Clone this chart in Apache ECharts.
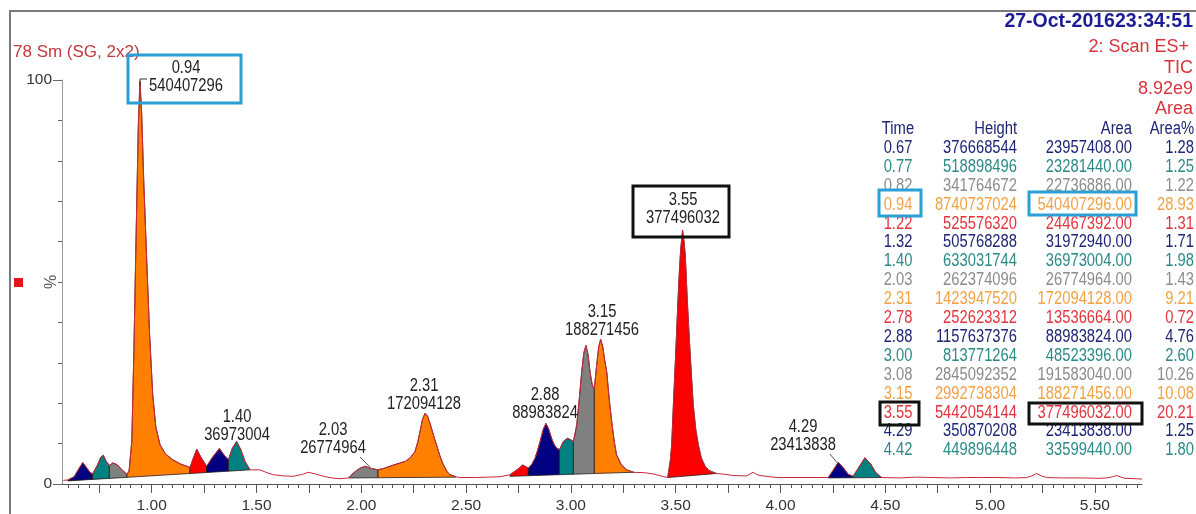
<!DOCTYPE html>
<html>
<head>
<meta charset="utf-8">
<script src="https://cdn.jsdelivr.net/npm/echarts@6/dist/echarts.min.js"></script>
<style>
  html, body { margin: 0; background: #fff; }
  #chart { width: 1196px; height: 514px; }
</style>
</head>
<body>
<div id="chart"></div>
<script>
// TIC trace, [time (min), % of full scale]
const trace = [
  [0.578,0.9],[0.60,1.0],[0.63,1.8],[0.655,4.0],[0.671,5.3],[0.69,4.0],[0.705,2.9],[0.718,2.5],
  [0.74,4.6],[0.757,6.6],[0.769,7.1],[0.783,5.6],[0.798,4.6],[0.814,5.2],[0.835,4.8],[0.86,3.4],
  [0.882,2.4],[0.892,3.2],[0.905,10.6],[0.915,33],[0.925,60],[0.936,88.5],[0.944,99.6],[0.952,92],
  [0.962,75],[0.976,55.7],[0.99,37],[1.005,22],[1.02,14],[1.04,9.7],[1.065,7.5],[1.10,6.0],
  [1.14,4.9],[1.183,4.1],[1.20,6.6],[1.215,8.6],[1.235,6.6],[1.262,4.4],[1.29,6.6],[1.323,8.8],
  [1.345,7.2],[1.366,6.0],[1.385,8.9],[1.405,10.5],[1.425,8.5],[1.445,5.6],[1.469,3.5],[1.517,3.5],
  [1.55,2.8],[1.58,2.3],[1.63,2.0],[1.676,1.9],[1.72,2.4],[1.747,2.9],[1.78,2.5],[1.82,1.9],
  [1.86,1.5],[1.898,1.3],[1.94,1.5],[1.962,2.7],[1.99,3.8],[2.018,4.4],[2.045,3.9],[2.08,3.5],
  [2.11,3.9],[2.137,4.4],[2.16,4.8],[2.185,5.2],[2.21,5.6],[2.232,6.4],[2.256,8.0],[2.27,10.5],
  [2.28,13.0],[2.292,16.0],[2.304,17.5],[2.316,16.8],[2.328,15.0],[2.345,12.0],[2.36,9.5],[2.375,7.0],
  [2.391,4.8],[2.41,3.0],[2.423,2.3],[2.45,1.8],[2.471,1.6],[2.55,1.6],[2.662,1.8],[2.71,2.3],
  [2.745,3.6],[2.77,4.7],[2.785,4.3],[2.797,3.9],[2.815,5.0],[2.829,6.4],[2.842,8.5],[2.853,10.5],
  [2.868,13.5],[2.881,15.0],[2.895,13.5],[2.908,11.3],[2.92,9.8],[2.932,8.9],[2.945,8.5],[2.955,9.5],
  [2.964,10.5],[2.983,11.3],[2.998,11.0],[3.012,10.5],[3.028,14.6],[3.04,21],[3.052,28],[3.062,32.5],
  [3.072,34.3],[3.082,32],[3.092,27.5],[3.102,24.5],[3.112,23.6],[3.123,29.4],[3.133,34],[3.142,35.8],
  [3.152,34],[3.162,30.5],[3.171,27.8],[3.183,21],[3.195,15.4],[3.207,10.5],[3.218,7.2],[3.24,4.8],
  [3.266,3.5],[3.30,2.9],[3.35,2.8],[3.393,2.5],[3.43,2.0],[3.462,1.6],[3.475,6],[3.481,9.7],
  [3.489,19.5],[3.50,32],[3.51,44.2],[3.518,53],[3.524,58.1],[3.533,62.8],[3.54,60],[3.546,56.5],
  [3.555,46],[3.565,36.0],[3.575,27],[3.584,19.5],[3.596,13.5],[3.608,9.7],[3.622,6.5],[3.64,4.4],
  [3.66,3.3],[3.695,2.6],[3.735,2.4],[3.775,2.1],[3.839,2.0],[3.855,2.5],[3.87,2.9],[3.885,2.4],
  [3.902,2.1],[3.95,1.8],[3.982,1.6],[4.06,1.6],[4.141,1.6],[4.228,1.6],[4.25,3.3],[4.276,5.4],
  [4.30,4.0],[4.323,2.4],[4.347,1.9],[4.37,3.8],[4.403,6.5],[4.43,5.0],[4.455,2.8],[4.483,1.6],
  [4.57,1.5],[4.65,1.7],[4.729,1.6],[4.81,1.5],[4.888,1.6],[4.97,1.6],[5.047,1.6],[5.12,1.5],
  [5.175,1.6],[5.20,2.0],[5.222,2.6],[5.245,2.0],[5.27,1.6],[5.35,1.5],[5.445,1.5],[5.52,1.4],
  [5.556,1.5],[5.585,1.8],[5.604,2.1],[5.625,1.7],[5.644,1.4],[5.70,1.3],[5.725,1.2]
];

// integrated peaks: start/end time and the integration baseline level at each end
const peakStart = [0.60, 0.718, 0.798, 0.882, 1.183, 1.262, 1.366, 1.94, 2.08, 2.71, 2.797, 2.945, 3.012, 3.112, 3.462, 4.228, 4.347];
const peakEnd   = [0.718, 0.798, 0.882, 1.183, 1.262, 1.366, 1.469, 2.08, 2.45, 2.797, 2.945, 3.012, 3.112, 3.30, 3.695, 4.347, 4.483];
const peakBaseStart = [0.77, 1.14, 1.39, 1.65, 2.6, 2.85, 3.18, 1.5, 1.55, 1.9, 2.05, 2.3, 2.42, 2.6, 1.6, 1.5, 1.55];
const peakBaseEnd   = [1.14, 1.39, 1.65, 2.6, 2.85, 3.18, 3.5, 1.55, 1.7, 2.05, 2.3, 2.42, 2.6, 2.9, 2.6, 1.55, 1.6];

// peak table
const tableTime = ['0.67','0.77','0.82','0.94','1.22','1.32','1.40','2.03','2.31','2.78','2.88','3.00','3.08','3.15','3.55','4.29','4.42'];
const tableHeight = ['376668544','518898496','341764672','8740737024','525576320','505768288','633031744','262374096','1423947520','252623312','1157637376','813771264','2845092352','2992738304','5442054144','350870208','449896448'];
const tableArea = ['23957408.00','23281440.00','22736886.00','540407296.00','24467392.00','31972940.00','36973004.00','26774964.00','172094128.00','13536664.00','88983824.00','48523396.00','191583040.00','188271456.00','377496032.00','23413838.00','33599440.00'];
const tableAreaPct = ['1.28','1.25','1.22','28.93','1.31','1.71','1.98','1.43','9.21','0.72','4.76','2.60','10.26','10.08','20.21','1.25','1.80'];

// peaks that carry a label on the trace
const labelledPeaks = ['0.94','1.40','2.03','2.31','2.88','3.15','3.55','4.29'];

// axis ticks
const xLabelValues = [1.00, 1.50, 2.00, 2.50, 3.00, 3.50, 4.00, 4.50, 5.00, 5.50];
const xMajorTicks = [0.75, 1.00, 1.25, 1.50, 1.75, 2.00, 2.25, 2.50, 2.75, 3.00, 3.25, 3.50, 3.75, 4.00, 4.25, 4.50, 4.75, 5.00, 5.25, 5.50];
const yLabelValues = [0, 100];

const xMin = 0.572, xMax = 5.725;
const xMinorTicks = [];
for (let k = 12; k <= 114; k++) xMinorTicks.push(+(k * 0.05).toFixed(2));

const fillColors = ['#000080', '#008080', '#808080', '#ff8000', '#ff0000'];
const textColors = ['#1e2574', '#2b8a86', '#8c8c8c', '#f2a244', '#e2343e'];
const FONT = "'Liberation Sans', Arial, sans-serif";
const NARROW = 0.82;

const chart = echarts.init(document.getElementById('chart'));

// label placement (centre x, first line y) in pixels
const labelPos = {
  '0.94': [186, 68], '1.40': [237, 417], '2.03': [333, 430], '2.31': [424, 386],
  '2.88': [545, 395], '3.15': [602, 312], '3.55': [683, 200], '4.29': [803, 427]
};

function narrowText(x, y, text, fill, align, z) {
  return {
    type: 'text', x: x, y: y, scaleX: NARROW, z: z || 5,
    style: { text: text, font: '18px ' + FONT, fill: fill, textAlign: align, textVerticalAlign: 'middle' }
  };
}

const graphics = [
  { type: 'rect', shape: { x: 10, y: 11, width: 1300, height: 600 }, style: { fill: 'none', stroke: '#7a7a7a', lineWidth: 2 }, z: 0 },
  { type: 'rect', shape: { x: 14, y: 278, width: 9, height: 9 }, style: { fill: '#e8141c' } },
  { type: 'text', x: 13, y: 52, style: { text: '78 Sm (SG, 2x2)', font: '17px ' + FONT, fill: '#c2383c', textVerticalAlign: 'middle' } },
  { type: 'text', x: 1193, y: 22, style: { text: '27-Oct-201623:34:51', font: 'bold 19.5px ' + FONT, fill: '#1c1c96', textAlign: 'right', textVerticalAlign: 'middle' } },
  { type: 'text', x: 1189, y: 47, style: { text: '2: Scan ES+', font: '18px ' + FONT, fill: '#d8343c', textAlign: 'right', textVerticalAlign: 'middle' } },
  { type: 'text', x: 1193, y: 68, style: { text: 'TIC', font: '18px ' + FONT, fill: '#d8343c', textAlign: 'right', textVerticalAlign: 'middle' } },
  { type: 'text', x: 1193, y: 89, style: { text: '8.92e9', font: '18px ' + FONT, fill: '#d8343c', textAlign: 'right', textVerticalAlign: 'middle' } },
  { type: 'text', x: 1193, y: 109, style: { text: 'Area', font: '18px ' + FONT, fill: '#d8343c', textAlign: 'right', textVerticalAlign: 'middle' } }
];

// table header and rows
const colX = [898, 1017, 1132, 1194];
const headers = ['Time', 'Height', 'Area', 'Area%'];
headers.forEach((h, c) => {
  graphics.push(narrowText(colX[c], 129, h, '#1e2574', c === 0 ? 'center' : 'right'));
});
tableTime.forEach((t, r) => {
  const y = 148 + r * 18.9;
  const fill = textColors[r % 5];
  [t, tableHeight[r], tableArea[r], tableAreaPct[r]].forEach((v, c) => {
    graphics.push(narrowText(colX[c], y, v, fill, c === 0 ? 'center' : 'right'));
  });
});

// peak labels
labelledPeaks.forEach(t => {
  const r = tableTime.indexOf(t);
  const p = labelPos[t];
  graphics.push(narrowText(p[0], p[1], t, '#222', 'center', 10));
  graphics.push(narrowText(p[0], p[1] + 18.5, tableArea[r].split('.')[0], '#222', 'center', 10));
});
graphics.push(
  { type: 'polyline', shape: { points: [[140, 86], [140, 79], [147, 79]] }, style: { stroke: '#333', lineWidth: 1 }, z: 10 },
  { type: 'line', shape: { x1: 360, y1: 457, x2: 370, y2: 467 }, style: { stroke: '#555', lineWidth: 1 }, z: 10 },
  { type: 'line', shape: { x1: 830, y1: 454, x2: 838, y2: 464 }, style: { stroke: '#555', lineWidth: 1 }, z: 10 },
  // highlight boxes
  { type: 'rect', shape: { x: 128, y: 55, width: 113, height: 48 }, style: { fill: 'none', stroke: '#2aa0d6', lineWidth: 3 }, z: 11 },
  { type: 'rect', shape: { x: 879, y: 190, width: 42, height: 26 }, style: { fill: 'none', stroke: '#2aa0d6', lineWidth: 3 }, z: 11 },
  { type: 'rect', shape: { x: 1029, y: 192, width: 107, height: 23 }, style: { fill: 'none', stroke: '#2aa0d6', lineWidth: 3 }, z: 11 },
  { type: 'rect', shape: { x: 633, y: 186, width: 96, height: 51 }, style: { fill: 'none', stroke: '#111', lineWidth: 3 }, z: 11 },
  { type: 'rect', shape: { x: 880, y: 402, width: 39, height: 23 }, style: { fill: 'none', stroke: '#111', lineWidth: 3 }, z: 11 },
  { type: 'rect', shape: { x: 1029, y: 403, width: 113, height: 21 }, style: { fill: 'none', stroke: '#111', lineWidth: 3 }, z: 11 }
);

const axisText = { color: '#333', fontSize: 15.5, fontFamily: FONT };

chart.setOption({
  animation: false,
  grid: { left: 62, right: 54, top: 80, bottom: 28 },
  xAxis: [
    {
      type: 'value', min: xMin, max: xMax,
      axisLine: { show: true, lineStyle: { color: '#555', width: 1 } },
      axisTick: { show: true, customValues: xMinorTicks, length: 4, lineStyle: { color: '#555' } },
      axisLabel: { show: false },
      splitLine: { show: false }
    },
    {
      type: 'value', min: xMin, max: xMax, position: 'bottom',
      axisLine: { show: false },
      axisTick: { show: true, customValues: xMajorTicks, length: 9, lineStyle: { color: '#555' } },
      axisLabel: { customValues: xLabelValues, formatter: v => v.toFixed(2), margin: 14, ...axisText },
      splitLine: { show: false }
    }
  ],
  yAxis: [
    {
      type: 'value', min: 0, max: 100, interval: 10,
      name: '%', nameLocation: 'middle', nameGap: 2, nameRotate: 90,
      nameTextStyle: { color: '#555', fontSize: 16, fontFamily: FONT },
      axisLine: { show: true, lineStyle: { color: '#999', width: 1 } },
      axisTick: { show: true, length: 4, lineStyle: { color: '#666' } },
      axisLabel: { show: false },
      splitLine: { show: false }
    },
    {
      type: 'value', min: 0, max: 100, position: 'left',
      axisLine: { show: false },
      axisTick: { show: true, customValues: yLabelValues, length: 9, lineStyle: { color: '#666' } },
      axisLabel: { customValues: yLabelValues, margin: 10, ...axisText },
      splitLine: { show: false }
    }
  ],
  series: [
    {
      type: 'custom',
      coordinateSystem: 'cartesian2d',
      clip: true,
      z: 2,
      data: peakStart.map((s, i) => [s, peakEnd[i], peakBaseStart[i], peakBaseEnd[i]]),
      encode: { x: [0, 1], y: [2, 3] },
      renderItem: (params, api) => {
        const i = params.dataIndex;
        const pts = [api.coord([peakStart[i], peakBaseStart[i]])];
        trace.forEach(p => {
          if (p[0] >= peakStart[i] - 1e-9 && p[0] <= peakEnd[i] + 1e-9) pts.push(api.coord(p));
        });
        pts.push(api.coord([peakEnd[i], peakBaseEnd[i]]));
        return {
          type: 'polygon',
          shape: { points: pts },
          style: { fill: fillColors[i % 5], stroke: '#2a1a1a', lineWidth: 0.8 }
        };
      }
    },
    {
      type: 'line',
      z: 3,
      data: trace,
      symbol: 'none',
      lineStyle: { color: '#c8283a', width: 1 }
    }
  ],
  graphic: graphics
});
</script>
</body>
</html>
